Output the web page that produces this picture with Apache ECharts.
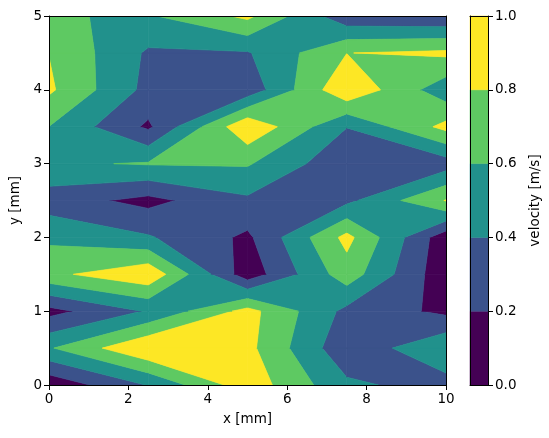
<!DOCTYPE html>
<html>
<head>
<meta charset="utf-8">
<script src="https://cdn.jsdelivr.net/npm/echarts/dist/echarts.min.js"></script>
<style>
  html, body { margin: 0; padding: 0; background: #fff; }
  #chart { width: 549px; height: 438px; }
</style>
</head>
<body>
<div id="chart"></div>
<script>
// grid of the measurement
const xGrid = [0, 2.5, 5, 7.5, 10];
const yGrid = [0, 0.5, 1, 1.5, 2, 2.5, 3, 3.5, 4, 4.5, 5];

// velocity [m/s] at each xGrid point, one row per yGrid value
const velY0_0 = [0.054, 0.41, 0.92, 0.44, 0.315];
const velY0_5 = [0.58, 0.99, 0.855, 0.25, 0.577];
const velY1_0 = [0.133, 0.42, 0.87, 0.345, 0.152];
const velY1_5 = [0.75, 0.954, 0.08, 0.71, 0.06];
const velY2_0 = [0.558, 0.42, 0.16, 0.86, 0.07];
const velY2_5 = [0.294, 0.14, 0.364, 0.35, 0.81];
const velY3_0 = [0.57, 0.616, 0.62, 0.25, 0.30];
const velY3_5 = [0.598, 0.165, 0.97, 0.405, 0.86];
const velY4_0 = [0.833, 0.34, 0.27, 0.97, 0.47];
const velY4_5 = [0.796, 0.37, 0.383, 0.797, 0.84];
const velY5_0 = [0.615, 0.578, 0.845, 0.25, 0.22];

const levels = [0, 0.2, 0.4, 0.6, 0.8, 1.0];
const bandColors = ['#440154', '#3b528b', '#21918c', '#5ec962', '#fde725'];

const velocity = [velY0_0, velY0_5, velY1_0, velY1_5, velY2_0, velY2_5,
                  velY3_0, velY3_5, velY4_0, velY4_5, velY5_0];

// filled band [lo, hi] inside one grid cell (marching squares, saddle decided by cell mean)
function cellBand(pts, c, lo, hi) {
  const eps = 1e-9;
  const perim = [];
  for (let k = 0; k < 4; k++) {
    const a = c[k], b = c[(k + 1) % 4], pa = pts[k], pb = pts[(k + 1) % 4];
    perim.push({ p: pa, v: a });
    const cuts = [];
    [lo, hi].forEach(function (L) {
      if ((a - L) * (b - L) < 0) cuts.push((L - a) / (b - a));
    });
    cuts.sort(function (m, n) { return m - n; });
    cuts.forEach(function (t) {
      perim.push({ p: [pa[0] + t * (pb[0] - pa[0]), pa[1] + t * (pb[1] - pa[1])], v: a + t * (b - a) });
    });
  }
  const inBand = function (q) { return q.v >= lo - eps && q.v <= hi + eps; };
  const mid = (c[0] + c[1] + c[2] + c[3]) / 4;
  const saddle = function (L) {
    let n = 0;
    for (let k = 0; k < 4; k++) if ((c[k] - L) * (c[(k + 1) % 4] - L) < 0) n++;
    return n === 4;
  };
  let keep = null;
  if (saddle(lo) && mid < lo) keep = function (q) { return q.v >= lo - eps; };
  else if (saddle(hi) && mid > hi) keep = function (q) { return q.v <= hi + eps; };

  if (!keep) {
    const ring = perim.filter(inBand).map(function (q) { return q.p; });
    return ring.length >= 3 ? [ring] : [];
  }
  const n = perim.length;
  const start = perim.findIndex(function (q) { return !keep(q); });
  const out = [];
  let run = [];
  for (let s = 1; s <= n; s++) {
    const q = perim[(start + s) % n];
    if (keep(q)) {
      if (inBand(q)) run.push(q.p);
    } else {
      if (run.length >= 3) out.push(run);
      run = [];
    }
  }
  if (run.length >= 3) out.push(run);
  return out;
}

const polys = [];
for (let j = 0; j < yGrid.length - 1; j++) {
  for (let i = 0; i < xGrid.length - 1; i++) {
    const c = [velocity[j][i], velocity[j][i + 1], velocity[j + 1][i + 1], velocity[j + 1][i]];
    const pts = [[xGrid[i], yGrid[j]], [xGrid[i + 1], yGrid[j]],
                 [xGrid[i + 1], yGrid[j + 1]], [xGrid[i], yGrid[j + 1]]];
    for (let b = 0; b < bandColors.length; b++) {
      cellBand(pts, c, levels[b], levels[b + 1]).forEach(function (ring) {
        polys.push({ band: b, pts: ring });
      });
    }
  }
}

const font = 'DejaVu Sans';
const black = '#000';
const lineAxis = { show: true, onZero: false, lineStyle: { color: black, width: 1 } };
const noTick = { show: false };
const noLabel = { show: false };
const noSplit = { show: false };
const tick = { show: true, inside: false, length: 5, lineStyle: { color: black, width: 1 } };
const label = { show: true, color: black, fontSize: 13.5, fontFamily: font, margin: 7 };
const nameText = { color: black, fontSize: 13.5, fontFamily: font };

const chart = echarts.init(document.getElementById('chart'));
chart.setOption({
  animation: false,
  backgroundColor: '#fff',
  grid: [
    { left: 49, top: 16, right: 103, bottom: 53 },
    { left: 470, top: 16, width: 18, bottom: 53 }
  ],
  xAxis: [
    { gridIndex: 0, type: 'value', min: 0, max: 10, interval: 2, position: 'bottom',
      name: 'x [mm]', nameLocation: 'middle', nameGap: 27, nameTextStyle: nameText,
      axisLine: lineAxis, axisTick: tick, axisLabel: label, splitLine: noSplit, z: 10 },
    { gridIndex: 0, type: 'value', min: 0, max: 10, position: 'top',
      axisLine: lineAxis, axisTick: noTick, axisLabel: noLabel, splitLine: noSplit, z: 10 },
    { gridIndex: 1, type: 'value', min: 0, max: 1, position: 'bottom',
      axisLine: lineAxis, axisTick: noTick, axisLabel: noLabel, splitLine: noSplit, z: 10 },
    { gridIndex: 1, type: 'value', min: 0, max: 1, position: 'top',
      axisLine: lineAxis, axisTick: noTick, axisLabel: noLabel, splitLine: noSplit, z: 10 }
  ],
  yAxis: [
    { gridIndex: 0, type: 'value', min: 0, max: 5, interval: 1, position: 'left',
      name: 'y [mm]', nameLocation: 'middle', nameGap: 24, nameRotate: 90, nameTextStyle: nameText,
      axisLine: lineAxis, axisTick: tick, axisLabel: label, splitLine: noSplit, z: 10 },
    { gridIndex: 0, type: 'value', min: 0, max: 5, position: 'right',
      axisLine: lineAxis, axisTick: noTick, axisLabel: noLabel, splitLine: noSplit, z: 10 },
    { gridIndex: 1, type: 'value', min: 0, max: 1, position: 'left',
      axisLine: lineAxis, axisTick: noTick, axisLabel: noLabel, splitLine: noSplit, z: 10 },
    { gridIndex: 1, type: 'value', min: 0, max: 1, interval: 0.2, position: 'right',
      name: 'velocity [m/s]', nameLocation: 'middle', nameGap: 40, nameRotate: 90, nameTextStyle: nameText,
      axisLine: lineAxis, axisTick: tick,
      axisLabel: Object.assign({}, label, { formatter: function (v) { return v.toFixed(1); } }),
      splitLine: noSplit, z: 10 }
  ],
  series: [
    {
      type: 'custom',
      xAxisIndex: 0,
      yAxisIndex: 0,
      clip: true,
      silent: true,
      data: polys.map(function (p) { return p.pts[0]; }),
      renderItem: function (params, api) {
        const poly = polys[params.dataIndex];
        const color = bandColors[poly.band];
        return {
          type: 'polygon',
          shape: { points: poly.pts.map(function (p) { return api.coord(p); }) },
          style: { fill: color, stroke: color, lineWidth: 0.7 }
        };
      }
    },
    {
      type: 'custom',
      xAxisIndex: 2,
      yAxisIndex: 3,
      silent: true,
      data: bandColors.map(function (c, i) { return [0.5, levels[i]]; }),
      renderItem: function (params, api) {
        const i = params.dataIndex;
        const p0 = api.coord([0, levels[i]]);
        const p1 = api.coord([1, levels[i + 1]]);
        return {
          type: 'rect',
          shape: { x: p0[0], y: p1[1], width: p1[0] - p0[0], height: p0[1] - p1[1] },
          style: { fill: bandColors[i], stroke: bandColors[i], lineWidth: 0.5 }
        };
      }
    }
  ]
});
</script>
</body>
</html>
